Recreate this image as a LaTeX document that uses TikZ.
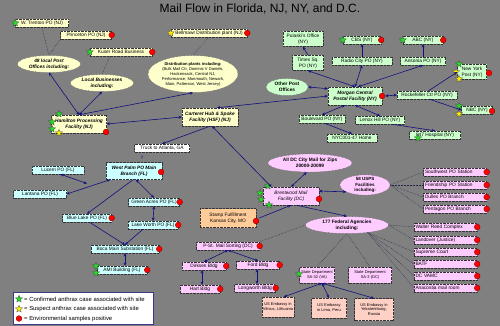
\documentclass[tikz,border=0pt]{standalone}
\usepackage{fontspec}
\setmainfont{Liberation Sans}
\usetikzlibrary{shapes.geometric,arrows.meta}
\definecolor{bgc}{HTML}{808080}
\definecolor{cyel}{HTML}{FFFFCC}
\definecolor{cgrn}{HTML}{CCFFCC}
\definecolor{ccyn}{HTML}{CCFFFF}
\definecolor{cpnk}{HTML}{FFCCFF}
\definecolor{corg}{HTML}{FFCC99}
\definecolor{cemb}{HTML}{FFD0C4}
\definecolor{navc}{HTML}{10107F}
\definecolor{dotc}{HTML}{26264A}
\definecolor{legc}{HTML}{3A3A8A}
\definecolor{gstarc}{HTML}{22E022}
\newcommand\fsA{\fontsize{4.8}{5.6}\selectfont}
\newcommand\fsB{\fontsize{4.5}{5.1}\selectfont}
\newcommand\fsC{\fontsize{4.1}{5.0}\selectfont}
\newcommand\fsD{\fontsize{4.0}{4.8}\selectfont}
\begin{document}
\begin{tikzpicture}[x=1pt,y=-1pt,
  box/.style={draw=black!80, densely dotted, line width=0.4pt, inner sep=0.5pt, minimum height=8pt, align=center, font=\fsA},
  yb/.style={box, fill=cyel},
  gb/.style={box, fill=cgrn},
  cb/.style={box, fill=ccyn},
  pb/.style={box, fill=cpnk},
  ob/.style={box, fill=corg},
  eb/.style={box, fill=cemb, font=\fsD},
  wb/.style={box, fill=white},
  lb/.style={pb, text width=60pt, align=left, inner xsep=1.5pt},
  bi/.style={font=\fsA\bfseries\itshape},
  ell/.style={ellipse, draw=black!70, densely dotted, line width=0.4pt, inner sep=0pt, align=center, font=\fsA\bfseries\itshape},
  gs/.style={star, star points=5, star point ratio=2.25, minimum size=7.5pt, inner sep=0pt, fill=gstarc, draw=black!70, line width=0.3pt},
  ys/.style={gs, fill=yellow},
  rd/.style={circle, minimum size=5.8pt, inner sep=0pt, fill=red, draw=red!50!black, line width=0.3pt},
  ar/.style={draw=navc, line width=0.6pt, -{Stealth[length=3.2pt,width=3pt]}},
  bar/.style={draw=navc, line width=0.6pt, {Stealth[length=3.2pt,width=3pt]}-{Stealth[length=3.2pt,width=3pt]}},
  dl/.style={draw=dotc, densely dotted, line width=0.5pt},
  lt/.style={font=\fontsize{5.9}{6.5}\selectfont, inner sep=0pt, anchor=west}
]
\fill[bgc] (0,0) rectangle (500,326);
\useasboundingbox (0,0) rectangle (500,326);

\node[font=\fontsize{12}{14}\selectfont] (title) at (260,9) {Mail Flow in Florida, NJ, NY, and D.C.};

% ---------- NJ ----------
\node[yb, minimum width=53pt] (wt) at (42,23) {W. Trenton PO (NJ)};
\node[gs] (s1) at (wt.west) {};
\node[yb, minimum width=51pt] (pr) at (86,35) {Princeton PO (NJ)};
\node[rd] (d1) at (pr.east) {};
\node[yb, minimum width=62pt] (ku) at (121,52) {Kuser Road Business};
\node[gs] (s2) at (ku.west) {};
\node[rd] (d2) at (ku.east) {};
\node[ell, fill=cyel, minimum width=63pt, minimum height=17pt] (e48) at (49,64) {48 local Post\\Offices including:};
\node[ell, fill=cyel, minimum width=63pt, minimum height=17pt] (elb) at (102,83) {Local Businesses\\including:};
\node[yb, minimum width=76pt] (bm) at (209,33) {Bellmawr Distribution plant (NJ)};
\node[ys] (s3) at (bm.west) {};
\node[rd] (d3) at (bm.east) {};
\node[ell, fill=cyel, minimum width=90pt, minimum height=37pt, font=\fsC] (edp) at (193,74) {\textbf{Distribution plants including:}\\(Bulk Mail Ctr, Dominic V Daniels,\\Hackensack, Central NJ,\\Performance, Monmouth, Newark,\\Main, Patterson, West Jersey)};
\node[yb, bi, minimum width=55pt, minimum height=18pt] (ham) at (79,124) {Hamilton Processing\\Facility (NJ)};
\node[gs] (s4) at (59,114) {};
\node[gs] (s5) at (52,122) {};
\node[gs] (s6) at (52,129) {};
\node[ys] (s7) at (59,133) {};
\node[rd] (d4) at (106,132) {};
\node[yb, bi, minimum width=56pt, minimum height=18pt] (car) at (210,117) {Carteret Hub \& Spoke\\Facility (HSF) (NJ)};
\node[wb, minimum width=55pt] (truck) at (162,148) {Truck to Atlanta, GA};
\node[font=\fsA, text=navc, inner sep=0pt] (q) at (142,157.5) {?};

% ---------- FL ----------
\node[cb, bi, minimum width=56pt, minimum height=17pt] (wp) at (134,171) {West Palm PO Main\\Branch (FL)};
\node[rd] (d5) at (161,172) {};
\node[cb, minimum width=52pt] (luc) at (58,170) {Lucern PO (FL)};
\node[cb, minimum width=53pt] (lan) at (40,194) {Lantana PO (FL)};
\node[cb, minimum width=51pt] (ga) at (154,202) {Green Acres PO (FL)};
\node[rd] (d6) at (ga.east) {};
\node[cb, minimum width=50pt] (lw) at (153,225) {Lake Worth PO (FL)};
\node[rd] (d7) at (lw.east) {};
\node[cb, minimum width=49pt] (bl) at (87,218) {Blue Lake PO (FL)};
\node[rd] (d8) at (bl.east) {};
\node[cb, minimum width=68pt] (boca) at (125,249) {Boca Main Substation (FL)};
\node[rd] (d9) at (boca.east) {};
\node[cb, minimum width=50pt] (ami) at (122,270) {AMI Building (FL)};
\node[gs] (s8) at (96,266) {};
\node[gs] (s9) at (96,273) {};
\node[rd] (d10) at (ami.east) {};

% ---------- legend ----------
\node[draw=legc, fill=white, line width=0.8pt, minimum width=140pt, minimum height=32pt, inner sep=0pt] (leg) at (83,308.5) {};
\node[gs] (ls1) at (19,299) {};
\node[ys] (ls2) at (19,309) {};
\node[rd] (ld) at (19,318.5) {};
\node[lt] (l1) at (24,299) {= Confirmed anthrax case associated with site};
\node[lt] (l2) at (24,309) {= Suspect anthrax case associated with site};
\node[lt] (l3) at (24,318.5) {= Environmental samples positive};

% ---------- NY ----------
\node[gb, minimum width=40pt, minimum height=15pt] (pul) at (303,39) {Pulaski's Office\\(NY)};
\node[gb, minimum width=31pt, minimum height=15pt] (ts) at (308,63) {Times Sq.\\PO (NY)};
\node[ell, fill=cgrn, minimum width=42pt, minimum height=17pt, font=\fsA\bfseries] (eop) at (287,87) {Other Post\\Offices};
\node[gb, minimum width=38pt] (cbs) at (362,40) {CBS (NY)};
\node[gs] (s10) at (cbs.west) {};
\node[rd] (d11) at (cbs.east) {};
\node[gb, minimum width=40pt] (abc) at (423,40) {ABC (NY)};
\node[gs] (s11) at (abc.west) {};
\node[rd] (d12) at (abc.east) {};
\node[gb, minimum width=60pt] (rc) at (362,61) {Radio City PO (NY)};
\node[gb, minimum width=45pt] (ans) at (423,61) {Ansonia PO (NY)};
\node[gb, minimum width=29pt, minimum height=15pt] (nyp) at (472,72) {New York\\Post (NY)};
\node[gs] (s12) at (459,64) {};
\node[ys] (s13) at (456,72) {};
\node[ys] (s14) at (459,79) {};
\node[rd] (d13) at (489,73) {};
\node[gb, bi, minimum width=54pt, minimum height=18pt] (mor) at (355,96) {Morgan Central\\Postal Facility (NY)};
\node[rd] (d14) at (382,96) {};
\node[gb, minimum width=60pt] (rock) at (427,95) {Rockefeller Ctr PO (NY)};
\node[gb, minimum width=31pt] (nbc) at (477,110) {NBC (NY)};
\node[gs] (s15) at (459,106) {};
\node[ys] (s16) at (459,114) {};
\node[rd] (d15) at (492,111) {};
\node[gb, minimum width=46pt] (bou) at (322,119) {Boulevard PO (NY)};
\node[gb, minimum width=49pt] (len) at (380,120) {Lenox Hill PO (NY)};
\node[gb, minimum width=50pt] (home) at (352,138) {NYC001-47 Home};
\node[gb, minimum width=51pt] (hosp) at (435,135) {847 Hospital (NY)};
\node[gs] (s17) at (418,138) {};

% ---------- DC ----------
\node[pb, font=\fsA\itshape, minimum width=56pt, minimum height=18pt] (bw) at (291,196) {Brentwood Mail\\Facility (DC)};
\node[gs] (s18) at (268,186) {};
\node[gs] (s19) at (260,193) {};
\node[gs] (s20) at (261,199.5) {};
\node[gs] (s21) at (269,205) {};
\node[rd] (d16) at (319,199) {};
\node[ell, fill=cpnk, minimum width=84pt, minimum height=18pt, font=\fsA\bfseries] (edc) at (310,163) {All DC City Mail for Zips\\20000-20099};
\node[ell, fill=cpnk, minimum width=50pt, minimum height=19pt, font=\fsB\bfseries] (e58) at (365,185) {58 USPS\\Facilities\\including:};
\node[lb] (sw) at (455,172) {Southwest PO Station};
\node[rd] (d17) at (sw.east) {};
\node[lb] (fr) at (455,185) {Friendship PO Station};
\node[rd] (d18) at (fr.east) {};
\node[lb] (du) at (455,197) {Dulles PO Branch};
\node[rd] (d19) at (du.east) {};
\node[lb] (pe) at (455,209) {Pentagon PO Branch};
\node[rd] (d20) at (pe.east) {};
\node[ell, fill=cpnk, minimum width=83pt, minimum height=17pt, font=\fsA\bfseries] (e177) at (347,225) {177 Federal Agencies\\including:};
\node[lb] (wr) at (445.5,227) {Walter Reed Complex};
\node[rd] (d21) at (wr.east) {};
\node[lb] (lo) at (445.5,240) {Landover (Justice)};
\node[rd] (d22) at (lo.east) {};
\node[lb] (sc) at (445.5,252) {Supreme Court};
\node[rd] (d23) at (sc.east) {};
\node[lb] (batf) at (445.5,264) {BATF};
\node[rd] (d24) at (batf.east) {};
\node[lb] (vamc) at (445.5,276) {DC VAMC};
\node[rd] (d25) at (vamc.east) {};
\node[lb] (ana) at (445.5,288) {Anacostia mail room};
\node[rd] (d26) at (ana.east) {};
\node[pb, font=\fsD, minimum width=35pt, minimum height=16pt] (sa32) at (317,275) {State Department\\SA-32 (VA)};
\node[gs] (s22) at (299,274) {};
\node[pb, font=\fsD, minimum width=43pt, minimum height=16pt] (sa3) at (370,275) {State Department\\SA-3 (DC)};
\node[eb, minimum width=32pt, minimum height=20pt] (vil) at (278,307) {US Embassy in\\Vilnius, Lithuania};
\node[eb, minimum width=35pt, minimum height=20pt] (lim) at (329,308) {US Embassy\\in Lima, Peru};
\node[eb, minimum width=39pt, minimum height=22pt] (yek) at (374,309.5) {US Embassy in\\Yekaterinburg,\\Russia};
\node[ob, minimum width=56pt, minimum height=19pt] (stamp) at (228,218) {Stamp Fulfillment\\Kansas City, MO};
\node[rd] (d27) at (256,221) {};
\node[pb, minimum width=63pt] (pst) at (228,246) {P-St. Mail Sorting (DC)};
\node[rd] (d28) at (pst.east) {};
\node[pb, minimum width=44pt] (dirk) at (204,266) {Dirksen Bldg};
\node[rd] (d29) at (dirk.east) {};
\node[pb, minimum width=43pt] (ford) at (258,265) {Ford Bldg};
\node[rd] (d30) at (ford.east) {};
\node[pb, minimum width=40pt] (hart) at (200,289) {Hart Bldg};
\node[rd] (d31) at (hart.east) {};
\node[pb, minimum width=41pt] (long) at (255,288) {Longworth Bldg};
\node[rd] (d32) at (long.east) {};

% ---------- dotted connectors ----------
\draw[dl] (wt.south) -- (e48.north);
\draw[dl] (pr.south west) -- (e48.north);
\draw[dl] ([xshift=-11pt]ku.south) -- (elb.north);
\draw[dl] (bm.south) -- (edp.north);
\foreach \t in {sw,fr,du,pe} \draw[dl] (e58.east) -- (\t.west);
\foreach \t in {wr,lo} \draw[dl] (e177.east) -- (\t.west);
\foreach \t in {sc,batf,vamc,ana} \draw[dl] (e177.-20) -- (\t.west);
\draw[dl] (e177.south) -- (sa32.north);
\draw[dl] (e177.south) -- (sa3.north);
\draw[dl] (pst.north east) -- (e177.west);

% ---------- arrows ----------
\draw[bar] (ham.north) -- (e48.south);
\draw[bar] (ham.north) -- (elb.south);
\draw[bar] (ham.north) -- (edp.south);
\draw[bar] (car.west) -- (ham.east);
\draw[bar] ([xshift=7pt]car.north) -- (mor.west);
\draw[ar] (car.south) -- (truck.north);
\draw[bar] ([xshift=2pt]car.south) -- (bw.155);

\coordinate (j1) at (87,183.5);
\draw[bar] (wp.200) -- (lan.east);
\draw[bar] (luc.-60) -- (j1);
\draw[ar] ([xshift=-1pt]wp.south) -- (bl.north);
\draw[bar] ([xshift=2pt]wp.south) -- (ga.north);
\draw[bar] (ga.south) -- (lw.north);
\draw[ar] (bl.-60) -- (boca.north);
\draw[ar] ([xshift=-10pt]lw.south) -- (boca.north);
\draw[bar] (boca.south) -- ([xshift=3pt]ami.north);

\draw[bar] (mor.north) -- (ts.south);
\draw[ar] (ts.north) -- (pul.south);
\draw[bar] (eop.east) -- (mor.165);
\draw[bar] (mor.north) -- (rc.south);
\draw[ar] (rc.north) -- (cbs.south);
\draw[bar] ([xshift=3pt]mor.north) -- (ans.south);
\draw[ar] (ans.north) -- (abc.south);
\draw[bar] ([xshift=3pt]mor.east) -- (rock.west);
\draw[ar] (rock.70) -- (nyp.west);
\draw[ar] (rock.-60) -- (nbc.west);
\draw[bar] ([xshift=-10pt]mor.south) -- (bou.north);
\draw[bar] (mor.south) -- (len.north);
\draw[ar] (bou.-60) -- (home.north);
\draw[ar] (len.-20) -- (hosp.north);

\draw[bar] (edc.250) -- (bw.north);
\draw[bar] (bw.10) -- (e58.200);
\draw[ar] (bw.-60) -- (e177.north);
\draw[ar] ([xshift=3pt]stamp.east) -- (bw.south);
\draw[bar] (pst.south) -- (dirk.north);
\draw[bar] (pst.south) -- (ford.north);
\draw[bar] ([xshift=-2pt]dirk.south) -- ([xshift=2pt]hart.north);
\draw[bar] ([xshift=-1pt]ford.south) -- ([xshift=2pt]long.north);
\draw[bar] ([xshift=5pt]sa32.south) -- (vil.60);
\draw[bar] ([xshift=5pt]sa32.south) -- (lim.north);
\draw[bar] ([xshift=5pt]sa32.south) -- (yek.north);
\end{tikzpicture}
\end{document}
